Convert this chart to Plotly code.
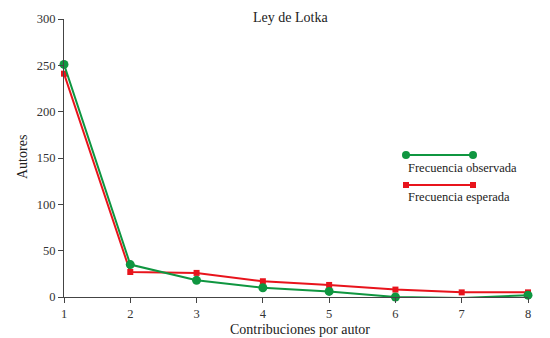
import plotly.graph_objects as go

contribuciones = [1, 2, 3, 4, 5, 6, 7, 8]
observada = [251, 35, 18, 10, 6, 0, -1, 2]
esperada = [241, 27, 26, 17, 13, 8, 5, 5]
y_ticks = [0, 50, 100, 150, 200, 250, 300]

GREEN = "#0f9640"
RED = "#e8141c"
FONT = "Liberation Serif"

W, H = 550, 338
ML, MR, MT, MB = 64, 22, 19, 41
pw, ph = W - ML - MR, H - MT - MB

def px(x):
    return (x - ML) / pw

def py(y):
    return 1 - (y - MT) / ph

fig = go.Figure()
fig.add_trace(go.Scatter(x=contribuciones, y=esperada, mode="lines+markers",
                         name="Frecuencia esperada",
                         line=dict(color=RED, width=2),
                         marker=dict(symbol="square", size=6, color=RED),
                         cliponaxis=False))
fig.add_trace(go.Scatter(x=contribuciones, y=observada, mode="lines+markers",
                         name="Frecuencia observada",
                         line=dict(color=GREEN, width=2),
                         marker=dict(symbol="circle", size=9, color=GREEN),
                         cliponaxis=False))

shapes = []
annotations = []
# custom legend (paper coordinates)
legend = [
    (155, 168, GREEN, "circle", "Frecuencia observada"),
    (185, 197, RED, "square", "Frecuencia esperada"),
]
for ly, ty, col, sym, txt in legend:
    shapes.append(dict(type="line", xref="paper", yref="paper",
                       x0=px(406), x1=px(473), y0=py(ly), y1=py(ly),
                       line=dict(color=col, width=2)))
    for cx in (406, 473):
        r = 4 if sym == "circle" else 3
        shapes.append(dict(type="circle" if sym == "circle" else "rect",
                           xref="paper", yref="paper",
                           x0=px(cx - r), x1=px(cx + r), y0=py(ly - r), y1=py(ly + r),
                           fillcolor=col, line=dict(color=col, width=0)))
    annotations.append(dict(text=txt, xref="paper", yref="paper",
                            x=px(406), y=py(ty), xanchor="left", yanchor="middle",
                            showarrow=False, font=dict(family=FONT, size=12.5, color="#222")))

annotations.append(dict(text="Ley de Lotka", xref="paper", yref="paper",
                        x=px(290), y=py(17), xanchor="center", yanchor="middle",
                        showarrow=False, font=dict(family=FONT, size=14, color="#222")))
annotations.append(dict(text="Contribuciones por autor", xref="paper", yref="paper",
                        x=px(300), y=py(329), xanchor="center", yanchor="middle",
                        showarrow=False, font=dict(family=FONT, size=14, color="#222")))
annotations.append(dict(text="Autores", xref="paper", yref="paper",
                        x=px(22), y=py(157), xanchor="center", yanchor="middle",
                        textangle=-90,
                        showarrow=False, font=dict(family=FONT, size=14, color="#222")))

fig.update_layout(
    width=W, height=H,
    margin=dict(l=ML, r=MR, t=MT, b=MB),
    paper_bgcolor="white", plot_bgcolor="white",
    showlegend=False,
    font=dict(family=FONT, size=12.5, color="#333"),
    shapes=shapes, annotations=annotations,
    xaxis=dict(range=[1, 8], tickvals=contribuciones, showgrid=False, zeroline=False,
               showline=True, linecolor="#444", linewidth=1, automargin=False,
               ticks="outside", ticklen=5, tickcolor="#444"),
    yaxis=dict(range=[0, 300], tickvals=y_ticks, showgrid=False, zeroline=False,
               showline=True, linecolor="#444", linewidth=1, automargin=False,
               ticks="outside", ticklen=5, tickcolor="#444"),
)

fig.write_html("out.html")
